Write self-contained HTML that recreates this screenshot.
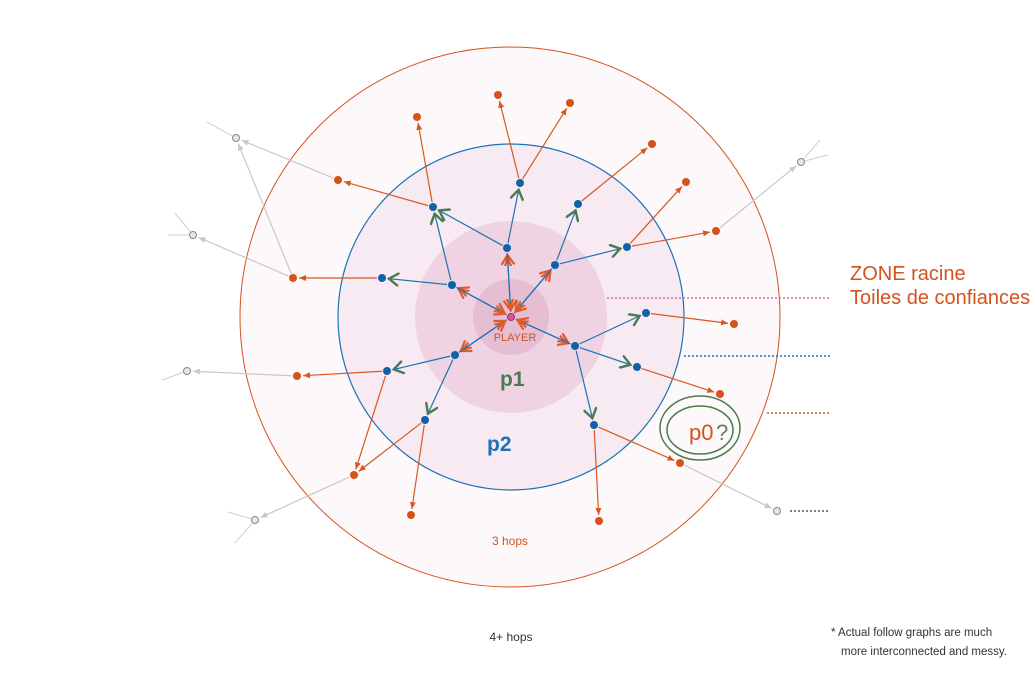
<!DOCTYPE html>
<html><head><meta charset="utf-8"><style>
html,body{margin:0;padding:0;background:#fff;}
svg{display:block;font-family:"Liberation Sans",sans-serif;}
</style></head><body>
<svg id="s" width="1035" height="675" viewBox="0 0 1035 675" xmlns="http://www.w3.org/2000/svg">
<defs>
<marker id="mo" markerWidth="8" markerHeight="8" refX="7" refY="4" orient="auto" markerUnits="userSpaceOnUse"><path d="M0,1 L7,4 L0,7 Z" fill="#d9581f"/></marker>
<marker id="mb" markerWidth="8" markerHeight="8" refX="7" refY="4" orient="auto" markerUnits="userSpaceOnUse"><path d="M0,1 L7,4 L0,7 Z" fill="#1a6fb0"/></marker>
<marker id="mg" markerWidth="8" markerHeight="8" refX="7" refY="4" orient="auto" markerUnits="userSpaceOnUse"><path d="M0,1 L7,4 L0,7 Z" fill="#c8c8c8"/></marker>
<marker id="co" markerWidth="14" markerHeight="14" refX="11" refY="7" orient="auto" markerUnits="userSpaceOnUse"><path d="M2,1 L11,7 L2,13 M0,4 L8,7 L0,10" fill="none" stroke="#e05a2a" stroke-width="2.2" stroke-linecap="round"/></marker>
<marker id="cg" markerWidth="14" markerHeight="14" refX="11" refY="7" orient="auto" markerUnits="userSpaceOnUse"><path d="M2,1 L11,7 L2,13" fill="none" stroke="#4a7a52" stroke-width="2.4" stroke-linecap="round"/></marker>
</defs>
<circle cx="510" cy="317" r="270" fill="#fdf8fa" stroke="#d4521b" stroke-width="1"/>
<circle cx="511" cy="317" r="173" fill="#f8eaf2" stroke="#1a73b5" stroke-width="1.2"/>
<circle cx="511" cy="317" r="96" fill="#f0d3e3"/>
<circle cx="511" cy="317" r="38" fill="#e6bed4"/>
<g stroke-dasharray="2,2" stroke-width="1.5">
<line x1="607" y1="298" x2="830" y2="298" stroke="#d86aa6"/>
<line x1="684" y1="356" x2="830" y2="356" stroke="#1a73b5"/>
<line x1="767" y1="413" x2="830" y2="413" stroke="#d9581f"/>
<line x1="790" y1="511" x2="830" y2="511" stroke="#555"/>
</g>
<g id="edges"></g>
<g id="nodes"></g>
<ellipse cx="700" cy="428" rx="40" ry="32" fill="none" stroke="#4a7a4a" stroke-width="1.5"/>
<ellipse cx="700" cy="430" rx="33" ry="24" fill="none" stroke="#4a7a4a" stroke-width="1.5"/>
<text x="689" y="440" font-size="22" fill="#d4521b">p0</text>
<text x="716" y="440" font-size="22" fill="#6a7a6a">?</text>
<text x="515" y="341" font-size="11" fill="#d4521b" text-anchor="middle">PLAYER</text>
<text x="500" y="386" font-size="21" font-weight="bold" fill="#4a7a52">p1</text>
<text x="487" y="451" font-size="21" font-weight="bold" fill="#1a73b5">p2</text>
<text x="510" y="545" font-size="12" fill="#d4521b" text-anchor="middle">3 hops</text>
<text x="511" y="641" font-size="12" fill="#333" text-anchor="middle">4+ hops</text>
<text x="850" y="280" font-size="20" fill="#d4521b">ZONE racine</text>
<text x="850" y="304" font-size="20" fill="#d4521b">Toiles de confiances</text>
<text x="831" y="636" font-size="11.5" fill="#333">* Actual follow graphs are much</text>
<text x="841" y="655" font-size="11.5" fill="#333">more interconnected and messy.</text>
</svg>
<script>
var NS="http://www.w3.org/2000/svg";
var E=document.getElementById("edges"),N=document.getElementById("nodes");
function ln(a,b,c,d,col,mk,s,t){var dx=c-a,dy=d-b,L=Math.hypot(dx,dy),ux=dx/L,uy=dy/L;
s=s||5;t=t||6;
var l=document.createElementNS(NS,"line");
l.setAttribute("x1",a+ux*s);l.setAttribute("y1",b+uy*s);l.setAttribute("x2",c-ux*t);l.setAttribute("y2",d-uy*t);
l.setAttribute("stroke",col);l.setAttribute("stroke-width","1.2");l.setAttribute("marker-end","url(#"+mk+")");
E.appendChild(l);}
function dot(x,y,f,st,r){var c=document.createElementNS(NS,"circle");c.setAttribute("cx",x);c.setAttribute("cy",y);c.setAttribute("r",r||4);c.setAttribute("fill",f);if(st){c.setAttribute("stroke",st);c.setAttribute("stroke-width","1");}N.appendChild(c);}
var P=[511,317];
var p1=[[507,248],[555,265],[452,285],[575,346],[455,355]];
p1.forEach(function(n){ln(P[0],P[1],n[0],n[1],"#1a73b5","co",5,7);ln(n[0],n[1],P[0],P[1],"#1a73b5","co",5,7);});
var b2=[[[507,248],[520,183]],[[507,248],[433,207]],[[452,285],[433,207]],[[452,285],[382,278]],[[555,265],[578,204]],[[555,265],[627,247]],[[575,346],[646,313]],[[575,346],[637,367]],[[575,346],[594,425]],[[455,355],[387,371]],[[455,355],[425,420]]];
b2.forEach(function(e){ln(e[0][0],e[0][1],e[1][0],e[1][1],"#1a73b5","cg",5,7);});
var o=[[520,183,498,95],[520,183,570,103],[433,207,417,117],[433,207,338,180],[578,204,652,144],[627,247,686,182],[627,247,716,231],[382,278,293,278],[646,313,734,324],[637,367,720,394],[387,371,297,376],[387,371,354,475],[425,420,354,475],[425,420,411,515],[594,425,680,463],[594,425,599,521]];
o.forEach(function(e){ln(e[0],e[1],e[2],e[3],"#d9581f","mo");});
var g=[[338,180,236,138],[293,278,236,138],[293,278,193,235],[297,376,187,371],[354,475,255,520],[716,231,801,162],[680,463,777,511]];
g.forEach(function(e){ln(e[0],e[1],e[2],e[3],"#c8c8c8","mg");});
var st=[[236,138,207,122],[193,235,175,213],[193,235,168,235],[187,371,162,380],[255,520,228,512],[255,520,235,543],[801,162,828,155],[801,162,820,140]];
st.forEach(function(e){var l=document.createElementNS(NS,"line");l.setAttribute("x1",e[0]);l.setAttribute("y1",e[1]);l.setAttribute("x2",e[2]);l.setAttribute("y2",e[3]);l.setAttribute("stroke","#d0d0d0");l.setAttribute("stroke-width","1");E.appendChild(l);});
[[520,183],[433,207],[578,204],[507,248],[627,247],[555,265],[382,278],[452,285],[646,313],[575,346],[455,355],[637,367],[387,371],[425,420],[594,425]].forEach(function(n){dot(n[0],n[1],"#0f62a8");});
[[498,95],[570,103],[417,117],[652,144],[338,180],[686,182],[716,231],[293,278],[734,324],[297,376],[720,394],[354,475],[680,463],[411,515],[599,521]].forEach(function(n){dot(n[0],n[1],"#d4521b");});
[[236,138],[193,235],[187,371],[255,520],[801,162],[777,511]].forEach(function(n){dot(n[0],n[1],"#e6e6e6","#888",3.5);});
dot(511,317,"#d4589a","#a03070",3.5);
</script>
</body></html>
